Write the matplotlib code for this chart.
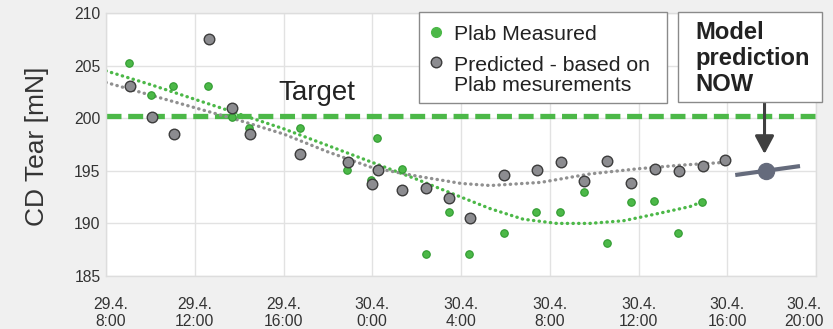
import matplotlib

matplotlib.use("Agg")
import matplotlib.pyplot as plt
from matplotlib.patches import Rectangle
from matplotlib.lines import Line2D
from matplotlib.transforms import ScaledTranslation

# x positions are in tick slots (0 = "29.4. 8:00", 8 = "30.4. 20:00")
tick_labels = ["29.4.\n8:00", "29.4.\n12:00", "29.4.\n16:00", "30.4.\n0:00", "30.4.\n4:00",
               "30.4.\n8:00", "30.4.\n12:00", "30.4.\n16:00", "30.4.\n20:00"]

measured_x = [0.26, 0.51, 0.76, 1.15, 1.42, 1.61, 2.19, 2.72, 2.99, 3.05, 3.34, 3.60,
              3.87, 4.09, 4.48, 4.85, 5.12, 5.39, 5.65, 5.91, 6.18, 6.45, 6.72]
measured_y = [205.2, 202.2, 203.1, 203.1, 200.1, 199.1, 199.1, 195.1, 194.1, 198.1, 195.2, 187.1,
              191.1, 187.1, 189.1, 191.1, 191.1, 193.0, 188.1, 192.0, 192.1, 189.1, 192.0]

predicted_x = [0.27, 0.52, 0.77, 1.16, 1.42, 1.62, 2.19, 2.73, 3.00, 3.07, 3.34, 3.61,
               3.86, 4.10, 4.49, 4.86, 5.13, 5.39, 5.65, 5.92, 6.19, 6.46, 6.73, 6.97]
predicted_y = [203.1, 200.1, 198.5, 207.5, 201.0, 198.5, 196.6, 195.8, 193.75, 195.1, 193.2, 193.4,
               192.4, 190.5, 194.6, 195.1, 195.8, 194.0, 195.9, 193.8, 195.2, 194.95, 195.5, 196.0]

# trend lines
measured_trend_x = [0.0, 0.5, 1.0, 1.5, 2.0, 2.5, 3.0, 3.5, 4.0, 4.33, 4.7, 5.08, 5.45, 5.83, 6.2, 6.58, 6.73]
measured_trend_y = [204.5, 203.2, 201.8, 200.4, 199.0, 197.4, 195.8, 194.2, 192.5, 191.4, 190.4, 190.0,
                    190.0, 190.25, 190.9, 191.6, 192.1]
predicted_trend_x = [0.0, 0.5, 1.0, 1.5, 2.0, 2.5, 3.0, 3.5, 4.0, 4.33, 4.9, 5.45, 6.0, 6.5, 6.97]
predicted_trend_y = [203.4, 202.2, 201.0, 199.8, 198.5, 196.8, 195.3, 194.5, 193.8, 193.6, 193.9, 194.7,
                     195.2, 195.55, 195.8]

target = 200.2
now_x = 7.44
now_y = 195.0
now_band_x = [7.09, 7.82]
now_band_y = [194.6, 195.45]

GREEN = "#4cb848"
GREEN_EDGE = "#2f9a2f"
GREY = "#8c8c90"
DARK = "#333333"
W, H = 833, 329


def fx(px):
    return px / W


def fy(py):
    return 1 - py / H


def main():
    plt.rcParams["font.family"] = ["Liberation Sans", "DejaVu Sans"]
    fig = plt.figure(figsize=(8.33, 3.29), dpi=100, facecolor="#f0f0f0")
    ax = fig.add_axes([fx(106), fy(276), fx(816) - fx(106), fy(13) - fy(276)])
    ax.set_facecolor("white")

    ax.set_xlim(0, 8)
    ax.set_ylim(185, 210)
    ax.set_xticks(range(len(tick_labels)))
    ax.set_xticklabels(tick_labels, linespacing=1.22)
    ax.set_yticks([185, 190, 195, 200, 205, 210])
    ax.tick_params(axis="both", length=0, labelsize=11.3, colors=DARK)
    ax.tick_params(axis="x", pad=15)
    ax.tick_params(axis="y", pad=4)
    ax.grid(True, color="#e2e2e2", lw=1)
    ax.set_axisbelow(True)
    for spine in ax.spines.values():
        spine.set_color("#dddddd")
        spine.set_linewidth(1)

    # nudge first and last x label like the reference
    labels = ax.get_xticklabels()
    labels[0].set_transform(labels[0].get_transform() + ScaledTranslation(0.05, 0, fig.dpi_scale_trans))
    labels[-1].set_transform(labels[-1].get_transform() + ScaledTranslation(-0.12, 0, fig.dpi_scale_trans))

    ax.axhline(target, color=GREEN, lw=3.8, dashes=(2.84, 1.27), zorder=1)
    ax.text(2.38, 201.74, "Target", fontsize=20, ha="center", va="baseline", color="#222222")

    dot = dict(lw=2.4, linestyle=(0, (0.1, 1.6)), dash_capstyle="round", zorder=2)
    ax.plot(measured_trend_x, measured_trend_y, color=GREEN, **dot)
    ax.plot(predicted_trend_x, predicted_trend_y, color="#909090", **dot)

    ax.plot(measured_x, measured_y, "o", ms=5.4, mfc=GREEN, mec=GREEN_EDGE, mew=0.8, zorder=3)
    ax.plot(predicted_x, predicted_y, "o", ms=7.6, mfc=GREY, mec="#3c3c3c", mew=1.0, zorder=4)

    ax.plot(now_band_x, now_band_y, color="#656b7c", lw=3.0, solid_capstyle="butt", zorder=5)
    ax.plot([now_x], [now_y], "o", ms=11.5, color="#656b7c", zorder=6)

    ax.annotate("", xy=(7.42, 196.6), xytext=(7.42, 201.55),
                arrowprops=dict(arrowstyle="-|>,head_length=0.9,head_width=0.48", color="#404040",
                                lw=2.2, shrinkA=0, shrinkB=0, mutation_scale=12), zorder=7)

    # legend box
    fig.add_artist(Rectangle((fx(419.3), fy(102.7)), fx(667.3) - fx(419.3), fy(11.7) - fy(102.7),
                             transform=fig.transFigure, facecolor="white", edgecolor="#8a8a8a", lw=1.0, zorder=10))
    fig.add_artist(Line2D([fx(435.7)], [fy(32)], marker="o", ms=7.0, mfc=GREEN, mec=GREEN,
                          transform=fig.transFigure, zorder=11))
    fig.add_artist(Line2D([fx(435.7)], [fy(62)], marker="o", ms=7.6, mfc=GREY, mec="#3c3c3c", mew=1.0,
                          transform=fig.transFigure, zorder=11))
    for text, base in [("Plab Measured", 40), ("Predicted - based on", 70.7), ("Plab mesurements", 90.7)]:
        fig.text(fx(454), fy(base), text, fontsize=15.3, va="baseline", ha="left", color="#222222", zorder=12)

    # model prediction box
    fig.add_artist(Rectangle((fx(677.7), fy(102.3)), fx(822) - fx(677.7), fy(11.7) - fy(102.3),
                             transform=fig.transFigure, facecolor="white", edgecolor="#8a8a8a", lw=1.0, zorder=10))
    for text, base in [("Model", 39), ("prediction", 65), ("NOW", 90.7)]:
        fig.text(fx(695), fy(base), text, fontsize=17.1, fontweight="bold", va="baseline", ha="left",
                 color="#222222", zorder=12)

    fig.text(fx(37), fy(146), "CD Tear [mN]", fontsize=19, rotation=90, ha="center", va="center", color=DARK)

    fig.savefig("out.png", dpi=100, facecolor=fig.get_facecolor())
    plt.close(fig)


if __name__ == "__main__":
    main()
